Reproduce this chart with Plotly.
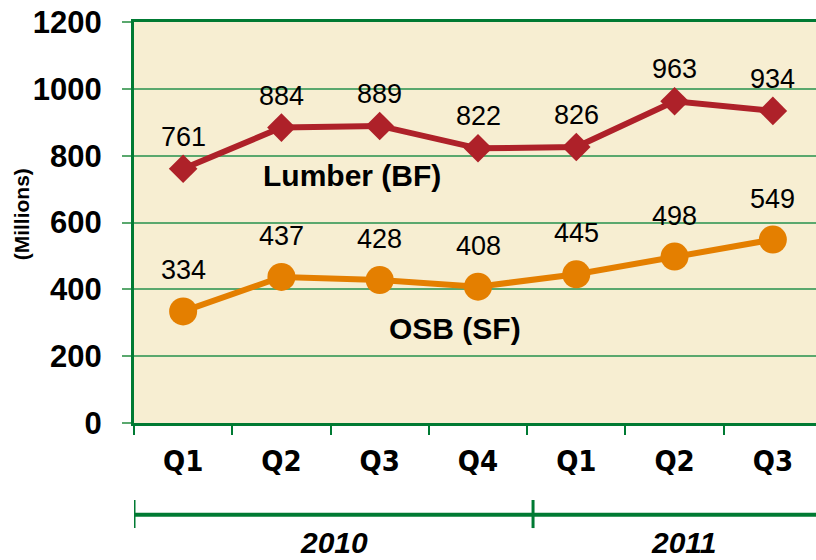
import plotly.graph_objects as go

periods = ["2010 Q1", "2010 Q2", "2010 Q3", "2010 Q4", "2011 Q1", "2011 Q2", "2011 Q3"]
quarter_labels = ["Q1", "Q2", "Q3", "Q4", "Q1", "Q2", "Q3"]
years = ["2010", "2011"]
year_spans = [(0, 3), (4, 6)]
lumber = [761, 884, 889, 822, 826, 963, 934]
osb = [334, 437, 428, 408, 445, 498, 549]
y_ticks = [0, 200, 400, 600, 800, 1000, 1200]

RED = "#AE2129"
ORANGE = "#E47F00"
DKGREEN = "#007A33"
GRID = "#5AA86E"
BG = "#F7EED2"

fig = go.Figure()
fig.add_trace(go.Scatter(x=periods, y=lumber, mode="lines+markers",
                         line=dict(color=RED, width=6),
                         marker=dict(symbol="diamond", size=22, color=RED)))
fig.add_trace(go.Scatter(x=periods, y=osb, mode="lines+markers",
                         line=dict(color=ORANGE, width=6),
                         marker=dict(symbol="circle", size=28, color=ORANGE)))

label_font = dict(family="Liberation Sans, Arial", size=27, color="black")
for series, shift in ((lumber, 32), (osb, 41)):
    for p, v in zip(periods, series):
        fig.add_annotation(x=p, y=v, text=str(v), showarrow=False,
                           yshift=shift, font=label_font)

fig.add_annotation(x=1.72, y=740, text="<b>Lumber (BF)</b>", showarrow=False,
                   font=dict(family="Liberation Sans, Arial", size=30, color="black"))
fig.add_annotation(x=2.77, y=284, text="<b>OSB (SF)</b>", showarrow=False,
                   font=dict(family="Liberation Sans, Arial", size=30, color="black"))

# year bracket axis (a separate, slightly offset bracket axis as in the original)
yline = -0.229
divider_shift = 0.06
right_overhang = 0.14
for i, ((a, b), yr) in enumerate(zip(year_spans, years)):
    left = a - 0.5 + (divider_shift if i > 0 else 0)
    right = b + 0.5 + (divider_shift if i < len(year_spans) - 1 else right_overhang)
    fig.add_shape(type="line", xref="x", yref="paper", x0=left, x1=right,
                  y0=yline, y1=yline, line=dict(color=DKGREEN, width=4))
    fig.add_shape(type="line", xref="x", yref="paper", x0=left, x1=left,
                  y0=-0.192, y1=-0.262, line=dict(color=DKGREEN, width=3))
    fig.add_annotation(x=(left + right) / 2, y=-0.298, xref="x", yref="paper",
                       yanchor="middle", xanchor="center",
                       text="<b><i>" + yr + "</i></b>", showarrow=False,
                       font=dict(family="Liberation Sans, Arial", size=30, color="black"))

fig.add_annotation(x=-0.163, y=0.52, xref="paper", yref="paper", text="<b>(Millions)</b>",
                   xanchor="center", yanchor="middle",
                   textangle=-90, showarrow=False,
                   font=dict(family="Liberation Sans, Arial", size=21, color="black"))

fig.update_layout(
    width=822, height=560,
    margin=dict(l=134, r=0, t=22, b=137),
    paper_bgcolor="white", plot_bgcolor=BG,
    showlegend=False,
    xaxis=dict(type="category", range=[-0.5, 6.5], tickmode="array", automargin=False,
               tickvals=periods, ticktext=quarter_labels, tickson="boundaries",
               ticks="outside", ticklen=9, tickwidth=2, tickcolor=DKGREEN,
               showline=True, linecolor=DKGREEN, linewidth=3, mirror=True,
               showgrid=False, ticklabelstandoff=10,
               tickfont=dict(family="DejaVu Sans Condensed, Liberation Sans", size=29,
                             color="black", weight="bold")),
    yaxis=dict(range=[0, 1200], tickvals=y_ticks, ticks="outside", ticklen=9, automargin=False,
               tickwidth=2, tickcolor=GRID, showline=True, linecolor=DKGREEN, linewidth=3,
               showgrid=True, gridcolor=GRID, gridwidth=2, zeroline=False,
               ticklabelstandoff=14,
               tickfont=dict(family="Liberation Sans, Arial", size=31, color="black", weight="bold")),
)

fig.write_html("out.html", config={"displayModeBar": False},
               post_script="document.body.style.margin='0';document.body.style.overflow='hidden';")
